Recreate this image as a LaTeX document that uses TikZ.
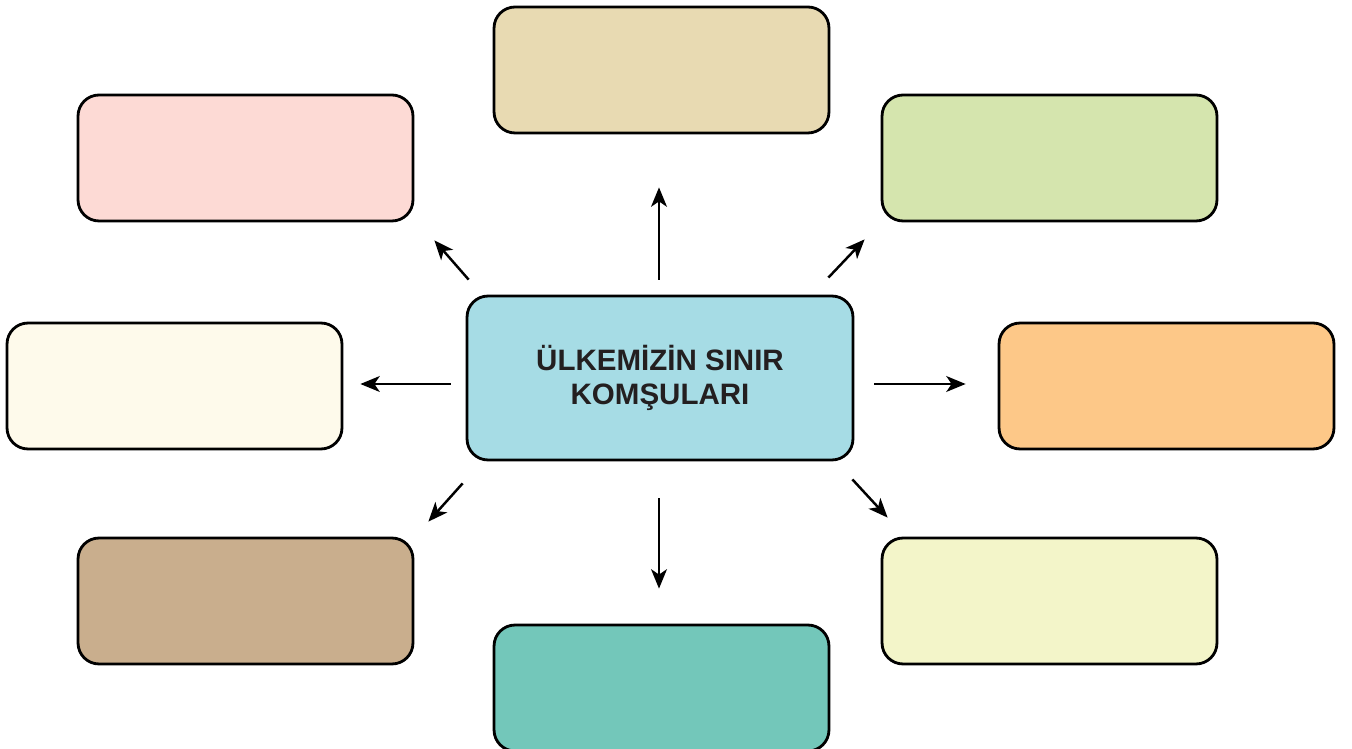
\documentclass[tikz,border=0pt]{standalone}
\usepackage{fontspec}
\newfontfamily\hubfont{Liberation Sans}
\usetikzlibrary{positioning}
\usetikzlibrary{arrows.meta}
\definecolor{hubblue}{HTML}{A6DCE5}
\definecolor{sand}{HTML}{E8DAB2}
\definecolor{rose}{HTML}{FDDAD5}
\definecolor{leaf}{HTML}{D5E5AE}
\definecolor{ivory}{HTML}{FEFAEB}
\definecolor{apricot}{HTML}{FDC888}
\definecolor{khaki}{HTML}{C9AE8D}
\definecolor{lemon}{HTML}{F3F5C9}
\definecolor{jade}{HTML}{73C7BA}
\definecolor{ink}{HTML}{231F20}
\tikzset{
    box/.style = {rectangle, rounded corners=0.42cm, line width=1.6pt, draw=black, minimum width=6.7cm, minimum height=2.52cm},
    hubbox/.style = {box, minimum width=7.72cm, minimum height=3.28cm, fill=hubblue, align=center, text=ink, font=\hubfont\bfseries\fontsize{16.8}{19}\selectfont},
    pointer/.style = {line width=1.4pt, draw=black, -{Stealth[length=11pt,width=9pt,inset=3pt]}}
}

\begin{document}
\begin{tikzpicture}[x=0.02cm,y=-0.02cm]
\useasboundingbox (0,0) rectangle (1352,749);
\node[hubbox] at (660,378) (hub) {ÜLKEMİZİN SINIR\\KOMŞULARI};
\node[box, fill=sand] at (661.5,70) (top) {};
\node[box, fill=rose] at (245.5,158) (ul) {};
\node[box, fill=leaf] at (1049.5,158) (ur) {};
\node[box, fill=ivory] at (174.5,386) (l) {};
\node[box, fill=apricot] at (1166.5,386) (r) {};
\node[box, fill=khaki] at (245.5,601) (ll) {};
\node[box, fill=lemon] at (1049.5,601) (lr) {};
\node[box, fill=jade] at (661.5,688) (bot) {};
%
\draw[pointer] ([shift={(-1,-15)}]hub.north) -- ([shift={(-2.5,53)}]top.south);
\draw[pointer] ([shift={(3,-15)}]hub.north west) -- ([shift={(20,18)}]ul.south east);
\draw[pointer] ([shift={(-26,-17)}]hub.north east) -- ([shift={(-16,17)}]ur.south west);
\draw[pointer] ([shift={(-15,6)}]hub.west) -- ([shift={(17,-2)}]l.east);
\draw[pointer] ([shift={(20,6)}]hub.east) -- ([shift={(-32,-2)}]r.west);
\draw[pointer] ([shift={(-3,22)}]hub.south west) -- ([shift={(14,-15)}]ll.north east);
\draw[pointer] ([shift={(-1,37)}]hub.south) -- ([shift={(-2.5,-35)}]bot.north);
\draw[pointer] ([shift={(-2,18)}]hub.south east) -- ([shift={(7,-19)}]lr.north west);
\end{tikzpicture}
\end{document}
